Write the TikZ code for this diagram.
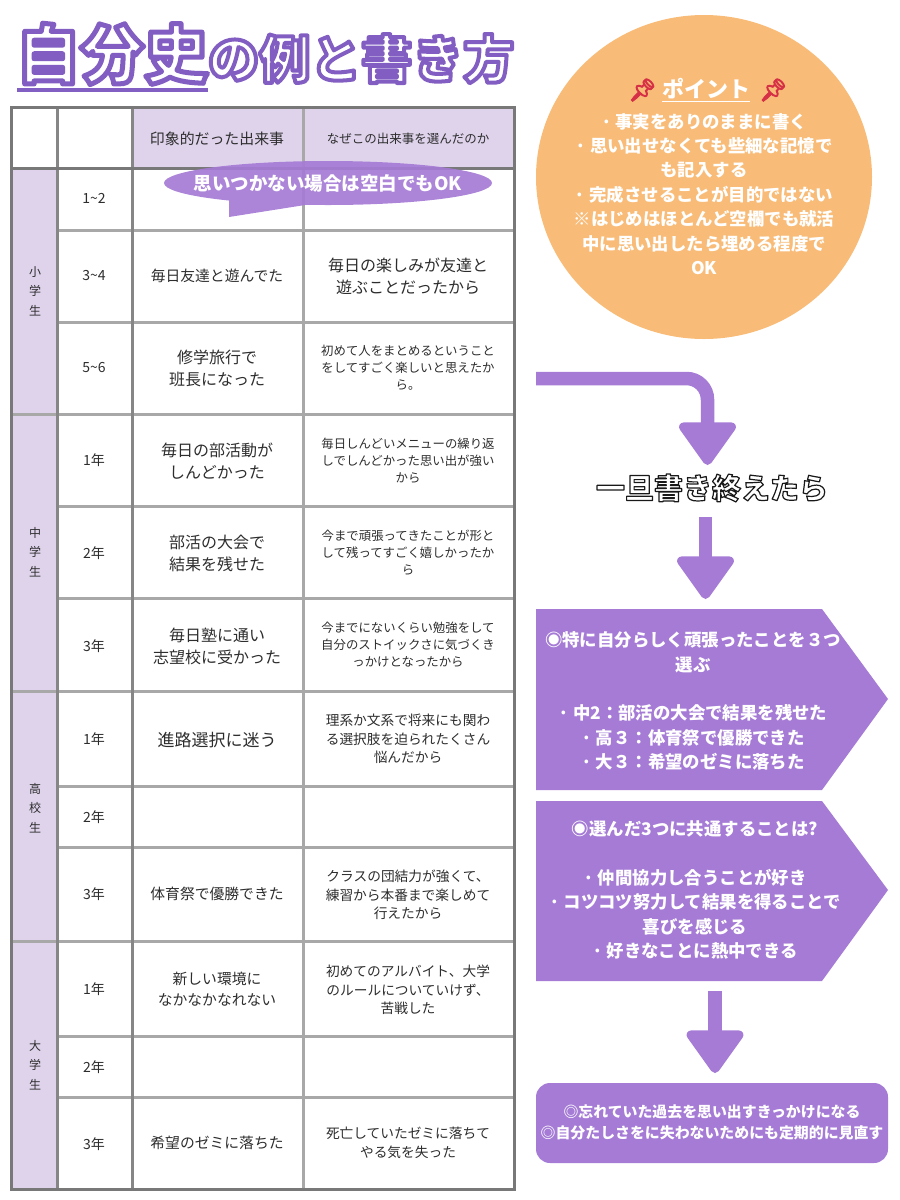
\documentclass[tikz,border=0pt]{standalone}
\usepackage{fontspec}
\usepackage{xcolor}
\setmainfont{Noto Sans CJK JP}
\newfontfamily\emojifont[FakeBold=5]{Noto Emoji}
\newfontfamily\heavyfont{Noto Sans CJK JP Black}
\usetikzlibrary{arrows.meta,positioning,shapes.geometric}
\definecolor{mypurple}{RGB}{165,123,214}
\definecolor{mylilac}{RGB}{223,211,236}
\definecolor{myorange}{RGB}{248,188,120}
\definecolor{mygrid}{RGB}{168,168,168}
\definecolor{myframe}{RGB}{120,120,120}
\definecolor{mytitle}{RGB}{130,95,195}
\definecolor{myink}{RGB}{45,45,45}
\definecolor{mypin}{RGB}{214,48,70}
\newcommand{\fs}[2]{\fontsize{#1}{#2}\selectfont}
% white letters with a stroked edge: edge colour, edge width, text
\newcommand{\outlined}[3]{\special{pdf:code q 2 Tr #2 w 1 j 1 J #1 RG 1 1 1 rg}\heavyfont #3\special{pdf:code Q}}
\tikzstyle{gridline} = [mygrid, line width=3pt]
\tikzstyle{frameline} = [myframe, line width=3pt]
\tikzstyle{lbl} = [inner sep=0pt, text=myink, align=center, yshift=-1pt]
\tikzstyle{yeartext} = [lbl, font=\fs{14}{16}]
\tikzstyle{sidetext} = [inner sep=0pt, text=myink, align=center, font=\fs{12}{19.6}]
\tikzstyle{evtext} = [lbl, font=\fs{14.8}{21}]
\tikzstyle{evbig} = [lbl, font=\fs{16}{22}]
\tikzstyle{whysmall} = [lbl, font=\fs{12.4}{17}]
\tikzstyle{whytext} = [lbl, font=\fs{13.7}{18.7}]
\tikzstyle{whitetext} = [inner sep=0pt, text=white, align=center]
\tikzstyle{flowbox} = [fill=mypurple]
\tikzstyle{bigarrow} = [mypurple, line width=13.5pt,
    -{Triangle[length=46pt, width=63pt, line width=9pt, round]}]

\begin{document}
\begin{tikzpicture}[x=1pt,y=-1pt]
\useasboundingbox (0,0) rectangle (900,1200);
% table fills
\fill[mylilac] (11,168) rectangle (57,1189);
\fill[mylilac] (132,107) rectangle (514,168);
\foreach \y in {230,322,506,598,786,847,1036,1097}
    \draw[gridline] (57,\y) -- (514,\y);
\foreach \y in {414,691,941}
    \draw[gridline] (11,\y) -- (514,\y);
\foreach \x in {303}
    \draw[gridline] (\x,107) -- (\x,1189);
\foreach \x in {57,132}
    \draw[myframe!70!mygrid, line width=3pt] (\x,107) -- (\x,1189);
\draw[frameline] (11,168) -- (514,168);
\draw[frameline] (11,107) rectangle (514,1189);

% title
\node[inner sep=0pt, anchor=base west, font=\fs{64}{64}] (titlebig) at (16,78) {\outlined{0.51 0.37 0.76}{5}{自分史}};
\node[inner sep=0pt, anchor=base west, font=\fs{51}{51}] (titlerest) at (208,78) {\outlined{0.51 0.37 0.76}{4}{の例と書き方}};
\draw[mytitle, line width=4pt] (17,90) -- (208,90);

% header
\node[lbl, font=\fs{14.9}{18}] (headev) at (217,138) {印象的だった出来事};
\node[lbl, font=\fs{12.5}{16}] (headwhy) at (408,138) {なぜこの出来事を選んだのか};

% left column
\node[sidetext] (sec1) at (35,291) {小\\学\\生};
\node[sidetext] (sec2) at (35,552) {中\\学\\生};
\node[sidetext] (sec3) at (35,808) {高\\校\\生};
\node[sidetext] (sec4) at (35,1065) {大\\学\\生};
% years
\node[yeartext] (y1) at (94,197) {1\textasciitilde 2};
\node[yeartext] (y2) at (94,275) {3\textasciitilde 4};
\node[yeartext] (y3) at (94,367) {5\textasciitilde 6};
\node[yeartext] (y4) at (94,459) {1年};
\node[yeartext] (y5) at (94,552) {2年};
\node[yeartext] (y6) at (94,645) {3年};
\node[yeartext] (y7) at (94,738) {1年};
\node[yeartext] (y8) at (94,816) {2年};
\node[yeartext] (y9) at (94,893) {3年};
\node[yeartext] (y10) at (94,988) {1年};
\node[yeartext] (y11) at (94,1066) {2年};
\node[yeartext] (y12) at (94,1143) {3年};
% events
\node[evtext] (ev2) at (217,275) {毎日友達と遊んでた};
\node[evbig] (ev3) at (217,367) {修学旅行で\\班長になった};
\node[evbig] (ev4) at (217,460) {毎日の部活動が\\しんどかった};
\node[evbig] (ev5) at (217,552) {部活の大会で\\結果を残せた};
\node[evbig] (ev6) at (217,645) {毎日塾に通い\\志望校に受かった};
\node[lbl, font=\fs{17}{22}] (ev7) at (217,739) {進路選択に迷う};
\node[evtext] (ev9) at (217,893) {体育祭で優勝できた};
\node[evtext] (ev10) at (217,988) {新しい環境に\\なかなかなれない};
\node[evtext] (ev12) at (217,1142) {希望のゼミに落ちた};
% reasons
\node[evbig] (why2) at (408,275) {毎日の楽しみが友達と\\遊ぶことだったから};
\node[whysmall] (why3) at (408,367) {初めて人をまとめるということ\\をしてすごく楽しいと思えたか\\ら。};
\node[whysmall] (why4) at (408,460) {毎日しんどいメニューの繰り返\\しでしんどかった思い出が強い\\から};
\node[whysmall] (why5) at (408,552) {今まで頑張ってきたことが形と\\して残ってすごく嬉しかったか\\ら};
\node[whysmall] (why6) at (408,644) {今までにないくらい勉強をして\\自分のストイックさに気づくき\\っかけとなったから};
\node[whytext] (why7) at (408,738) {理系か文系で将来にも関わ\\る選択肢を迫られたくさん\\悩んだから};
\node[whytext] (why9) at (408,894) {クラスの団結力が強くて、\\練習から本番まで楽しめて\\行えたから};
\node[whytext] (why10) at (408,989) {初めてのアルバイト、大学\\のルールについていけず、\\苦戦した};
\node[whytext] (why12) at (408,1142) {死亡していたゼミに落ちて\\やる気を失った};

% speech bubble
\fill[mypurple, opacity=.92] (328,183) ellipse (164 and 22)
    (229,195) -- (290,195) -- (305,205) -- (229,217) -- cycle;
\node[whitetext, font=\fs{18.5}{22}\bfseries] (bubbletext) at (328,183) {思いつかない場合は空白でもOK};

% point circle
\node[ellipse, fill=myorange, minimum width=336pt, minimum height=324pt, inner sep=0pt] (point) at (704,177) {};
\node[whitetext, font=\fs{22}{26}\bfseries] (pointtitle) at (706,90) {\underline{ポイント}};
\node[inner sep=0pt, text=mypin, font=\fs{22}{26}\emojifont, left=5pt of pointtitle] (pinleft) {📌};
\node[inner sep=0pt, text=mypin, font=\fs{22}{26}\emojifont, right=9pt of pointtitle] (pinright) {📌};
\node[whitetext, font=\fs{17.4}{24.4}\bfseries] (pointtext) at (704,194) {· 事実をありのままに書く\\· 思い出せなくても些細な記憶で\\も記入する\\· 完成させることが目的ではない\\※はじめはほとんど空欄でも就活\\中に思い出したら埋める程度で\\OK};

% flow on the right
\coordinate (a1s) at (536,378.5);
\coordinate (a1e) at (707.5,465);
\draw[bigarrow, rounded corners=21pt] (a1s) -| (a1e);

\node[inner sep=0pt, font=\fs{29}{32}] (note) at (712,488) {\outlined{0.1 0.1 0.1}{1.2}{一旦書き終えたら}};

\coordinate (a2s) at (705.5,517);
\coordinate (a2e) at (705.5,599);
\draw[bigarrow] (a2s) -- (a2e);

\fill[flowbox] (536,609) -- (822,609) -- (888,699) -- (822,790) -- (536,790) -- cycle;
\node[whitetext, font=\fs{17.4}{24.4}\bfseries] (pickbox) at (693,701) {◉特に自分らしく頑張ったことを３つ\\選ぶ\\ \\· 中2：部活の大会で結果を残せた\\· 高３：体育祭で優勝できた\\· 大３：希望のゼミに落ちた};

\fill[flowbox] (536,801) -- (822,801) -- (888,890) -- (822,981) -- (536,981) -- cycle;
\node[whitetext, font=\fs{17.4}{24.4}\bfseries] (commonbox) at (695,890) {◉選んだ3つに共通することは?\\ \\· 仲間協力し合うことが好き\\· コツコツ努力して結果を得ることで\\喜びを感じる\\· 好きなことに熱中できる};

\coordinate (a3s) at (715,991);
\coordinate (a3e) at (715,1073);
\draw[bigarrow] (a3s) -- (a3e);

\node[flowbox, rounded corners=14pt, minimum width=352pt, minimum height=80pt, inner sep=0pt] (endbox) at (712,1123) {};
\node[whitetext, font=\fs{14.9}{21}\bfseries] (endtext) at (712,1122.5) {◎忘れていた過去を思い出すきっかけになる\\◎自分たしさをに失わないためにも定期的に見直す};
\end{tikzpicture}
\end{document}
